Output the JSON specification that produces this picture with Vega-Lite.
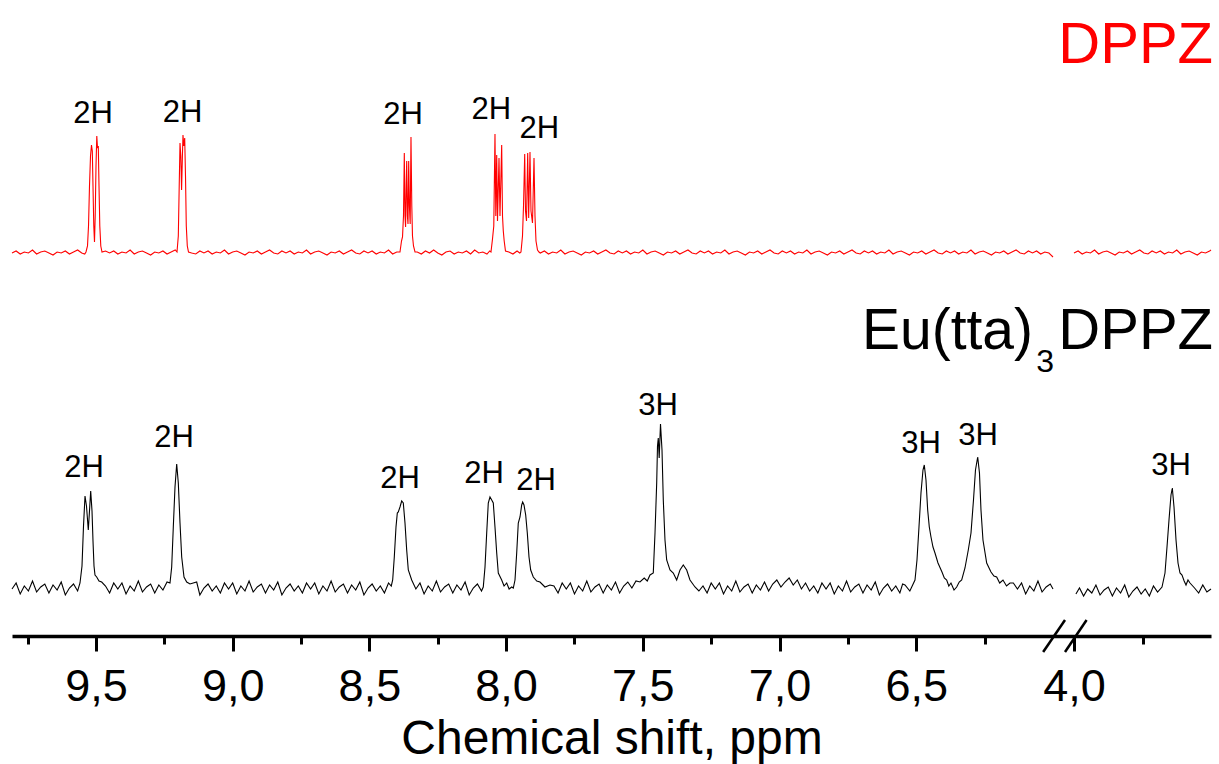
{
"$schema": "https://vega.github.io/schema/vega-lite/v6.json",
"width": 1200, "height": 636,
"autosize": {"type": "none"},
"padding": {"left": 12, "top": 0, "right": 7, "bottom": 128},
"background": "white",
"config": {"view": {"stroke": null}, "font": "Liberation Sans"},
"datasets": {
"spec": [
{"c":"D","g":1,"p":9.807,"i":383},{"c":"D","g":1,"p":9.792,"i":385},{"c":"D","g":1,"p":9.777,"i":382},{"c":"D","g":1,"p":9.762,"i":384},{"c":"D","g":1,"p":9.747,"i":383},{"c":"D","g":1,"p":9.732,"i":386},{"c":"D","g":1,"p":9.717,"i":382},{"c":"D","g":1,"p":9.702,"i":384},{"c":"D","g":1,"p":9.687,"i":385},{"c":"D","g":1,"p":9.672,"i":383},{"c":"D","g":1,"p":9.657,"i":381},{"c":"D","g":1,"p":9.642,"i":384},{"c":"D","g":1,"p":9.627,"i":383},{"c":"D","g":1,"p":9.612,"i":385},{"c":"D","g":1,"p":9.597,"i":382},{"c":"D","g":1,"p":9.582,"i":384},{"c":"D","g":1,"p":9.567,"i":386},{"c":"D","g":1,"p":9.552,"i":383},{"c":"D","g":1,"p":9.541,"i":382},
{"c":"D","g":1,"p":9.5364,"i":384},{"c":"D","g":1,"p":9.5309,"i":390},{"c":"D","g":1,"p":9.5272,"i":410},{"c":"D","g":1,"p":9.5236,"i":450},{"c":"D","g":1,"p":9.5199,"i":480},{"c":"D","g":1,"p":9.5163,"i":491},{"c":"D","g":1,"p":9.5133,"i":485},{"c":"D","g":1,"p":9.5108,"i":450},{"c":"D","g":1,"p":9.5079,"i":410},{"c":"D","g":1,"p":9.5053,"i":394},{"c":"D","g":1,"p":9.5027,"i":420},{"c":"D","g":1,"p":9.4998,"i":470},{"c":"D","g":1,"p":9.4969,"i":500},{"c":"D","g":1,"p":9.4943,"i":488},{"c":"D","g":1,"p":9.4914,"i":490},{"c":"D","g":1,"p":9.4888,"i":450},{"c":"D","g":1,"p":9.4859,"i":410},{"c":"D","g":1,"p":9.4823,"i":390},{"c":"D","g":1,"p":9.4779,"i":384},
{"c":"D","g":1,"p":9.465,"i":385},{"c":"D","g":1,"p":9.45,"i":383},{"c":"D","g":1,"p":9.435,"i":385},{"c":"D","g":1,"p":9.42,"i":382},{"c":"D","g":1,"p":9.405,"i":384},{"c":"D","g":1,"p":9.39,"i":383},{"c":"D","g":1,"p":9.375,"i":386},{"c":"D","g":1,"p":9.36,"i":382},{"c":"D","g":1,"p":9.345,"i":384},{"c":"D","g":1,"p":9.33,"i":385},{"c":"D","g":1,"p":9.315,"i":383},{"c":"D","g":1,"p":9.3,"i":381},{"c":"D","g":1,"p":9.285,"i":384},{"c":"D","g":1,"p":9.27,"i":383},{"c":"D","g":1,"p":9.255,"i":385},{"c":"D","g":1,"p":9.24,"i":382},{"c":"D","g":1,"p":9.225,"i":384},{"c":"D","g":1,"p":9.21,"i":386},
{"c":"D","g":1,"p":9.2036,"i":384},{"c":"D","g":1,"p":9.1988,"i":400},{"c":"D","g":1,"p":9.1955,"i":450},{"c":"D","g":1,"p":9.1926,"i":493},{"c":"D","g":1,"p":9.1897,"i":480},{"c":"D","g":1,"p":9.1868,"i":446},{"c":"D","g":1,"p":9.1838,"i":480},{"c":"D","g":1,"p":9.1817,"i":501},{"c":"D","g":1,"p":9.1787,"i":490},{"c":"D","g":1,"p":9.1754,"i":498},{"c":"D","g":1,"p":9.1725,"i":460},{"c":"D","g":1,"p":9.1696,"i":410},{"c":"D","g":1,"p":9.1659,"i":390},{"c":"D","g":1,"p":9.1615,"i":384},
{"c":"D","g":1,"p":9.15,"i":383},{"c":"D","g":1,"p":9.135,"i":382},{"c":"D","g":1,"p":9.12,"i":385},{"c":"D","g":1,"p":9.105,"i":383},{"c":"D","g":1,"p":9.09,"i":385},{"c":"D","g":1,"p":9.075,"i":382},{"c":"D","g":1,"p":9.06,"i":384},{"c":"D","g":1,"p":9.045,"i":383},{"c":"D","g":1,"p":9.03,"i":386},{"c":"D","g":1,"p":9.015,"i":382},{"c":"D","g":1,"p":9.0,"i":384},{"c":"D","g":1,"p":8.985,"i":385},{"c":"D","g":1,"p":8.97,"i":383},{"c":"D","g":1,"p":8.955,"i":381},{"c":"D","g":1,"p":8.94,"i":384},{"c":"D","g":1,"p":8.925,"i":383},{"c":"D","g":1,"p":8.91,"i":385},{"c":"D","g":1,"p":8.895,"i":382},{"c":"D","g":1,"p":8.88,"i":384},{"c":"D","g":1,"p":8.865,"i":386},{"c":"D","g":1,"p":8.85,"i":383},{"c":"D","g":1,"p":8.835,"i":382},{"c":"D","g":1,"p":8.82,"i":385},{"c":"D","g":1,"p":8.805,"i":383},{"c":"D","g":1,"p":8.79,"i":385},{"c":"D","g":1,"p":8.775,"i":382},{"c":"D","g":1,"p":8.76,"i":384},{"c":"D","g":1,"p":8.745,"i":383},{"c":"D","g":1,"p":8.73,"i":386},{"c":"D","g":1,"p":8.715,"i":382},{"c":"D","g":1,"p":8.7,"i":384},{"c":"D","g":1,"p":8.685,"i":385},{"c":"D","g":1,"p":8.67,"i":383},{"c":"D","g":1,"p":8.655,"i":381},{"c":"D","g":1,"p":8.64,"i":384},{"c":"D","g":1,"p":8.625,"i":383},{"c":"D","g":1,"p":8.61,"i":385},{"c":"D","g":1,"p":8.595,"i":382},{"c":"D","g":1,"p":8.58,"i":384},{"c":"D","g":1,"p":8.565,"i":386},{"c":"D","g":1,"p":8.55,"i":383},{"c":"D","g":1,"p":8.535,"i":382},{"c":"D","g":1,"p":8.52,"i":385},{"c":"D","g":1,"p":8.505,"i":383},{"c":"D","g":1,"p":8.49,"i":385},{"c":"D","g":1,"p":8.475,"i":382},{"c":"D","g":1,"p":8.46,"i":384},{"c":"D","g":1,"p":8.445,"i":383},{"c":"D","g":1,"p":8.43,"i":386},{"c":"D","g":1,"p":8.415,"i":382},{"c":"D","g":1,"p":8.4,"i":384},
{"c":"D","g":1,"p":8.3881,"i":384},{"c":"D","g":1,"p":8.3826,"i":395},{"c":"D","g":1,"p":8.3789,"i":399},{"c":"D","g":1,"p":8.3753,"i":420},{"c":"D","g":1,"p":8.3723,"i":483},{"c":"D","g":1,"p":8.3698,"i":420},{"c":"D","g":1,"p":8.3676,"i":409},{"c":"D","g":1,"p":8.3654,"i":450},{"c":"D","g":1,"p":8.3636,"i":475},{"c":"D","g":1,"p":8.361,"i":420},{"c":"D","g":1,"p":8.3588,"i":412},{"c":"D","g":1,"p":8.3563,"i":475},{"c":"D","g":1,"p":8.3537,"i":430},{"c":"D","g":1,"p":8.3508,"i":412},{"c":"D","g":1,"p":8.3479,"i":499},{"c":"D","g":1,"p":8.3449,"i":430},{"c":"D","g":1,"p":8.3424,"i":400},{"c":"D","g":1,"p":8.3387,"i":390},{"c":"D","g":1,"p":8.3332,"i":384},
{"c":"D","g":1,"p":8.325,"i":384},{"c":"D","g":1,"p":8.31,"i":382},{"c":"D","g":1,"p":8.295,"i":385},{"c":"D","g":1,"p":8.28,"i":383},{"c":"D","g":1,"p":8.265,"i":386},{"c":"D","g":1,"p":8.25,"i":383},{"c":"D","g":1,"p":8.235,"i":381},{"c":"D","g":1,"p":8.22,"i":384},{"c":"D","g":1,"p":8.205,"i":385},{"c":"D","g":1,"p":8.19,"i":382},{"c":"D","g":1,"p":8.175,"i":384},{"c":"D","g":1,"p":8.16,"i":383},{"c":"D","g":1,"p":8.145,"i":385},{"c":"D","g":1,"p":8.13,"i":382},{"c":"D","g":1,"p":8.115,"i":386},{"c":"D","g":1,"p":8.1,"i":383},{"c":"D","g":1,"p":8.085,"i":384},{"c":"D","g":1,"p":8.07,"i":382},{"c":"D","g":1,"p":8.06,"i":385},
{"c":"D","g":1,"p":8.0553,"i":384},{"c":"D","g":1,"p":8.0498,"i":397},{"c":"D","g":1,"p":8.0451,"i":410},{"c":"D","g":1,"p":8.0407,"i":502},{"c":"D","g":1,"p":8.0377,"i":420},{"c":"D","g":1,"p":8.0344,"i":481},{"c":"D","g":1,"p":8.0315,"i":415},{"c":"D","g":1,"p":8.026,"i":478},{"c":"D","g":1,"p":8.0224,"i":420},{"c":"D","g":1,"p":8.0162,"i":491},{"c":"D","g":1,"p":8.0132,"i":420},{"c":"D","g":1,"p":8.0103,"i":405},{"c":"D","g":1,"p":8.007,"i":395},{"c":"D","g":1,"p":8.0023,"i":385},
{"c":"D","g":1,"p":7.99,"i":384},{"c":"D","g":1,"p":7.975,"i":382},{"c":"D","g":1,"p":7.96,"i":385},{"c":"D","g":1,"p":7.95,"i":383},
{"c":"D","g":1,"p":7.9456,"i":384},{"c":"D","g":1,"p":7.9401,"i":400},{"c":"D","g":1,"p":7.9364,"i":430},{"c":"D","g":1,"p":7.932,"i":482},{"c":"D","g":1,"p":7.9291,"i":425},{"c":"D","g":1,"p":7.9254,"i":415},{"c":"D","g":1,"p":7.9211,"i":483},{"c":"D","g":1,"p":7.9175,"i":418},{"c":"D","g":1,"p":7.9127,"i":484},{"c":"D","g":1,"p":7.909,"i":425},{"c":"D","g":1,"p":7.9035,"i":413},{"c":"D","g":1,"p":7.898,"i":478},{"c":"D","g":1,"p":7.8944,"i":420},{"c":"D","g":1,"p":7.8907,"i":395},{"c":"D","g":1,"p":7.8852,"i":386},{"c":"D","g":1,"p":7.8798,"i":384},
{"c":"D","g":1,"p":7.875,"i":383},{"c":"D","g":1,"p":7.86,"i":385},{"c":"D","g":1,"p":7.845,"i":382},{"c":"D","g":1,"p":7.83,"i":384},{"c":"D","g":1,"p":7.815,"i":383},{"c":"D","g":1,"p":7.8,"i":386},{"c":"D","g":1,"p":7.785,"i":382},{"c":"D","g":1,"p":7.77,"i":384},{"c":"D","g":1,"p":7.755,"i":385},{"c":"D","g":1,"p":7.74,"i":383},{"c":"D","g":1,"p":7.725,"i":381},{"c":"D","g":1,"p":7.71,"i":384},{"c":"D","g":1,"p":7.695,"i":383},{"c":"D","g":1,"p":7.68,"i":385},{"c":"D","g":1,"p":7.665,"i":382},{"c":"D","g":1,"p":7.65,"i":384},{"c":"D","g":1,"p":7.635,"i":386},{"c":"D","g":1,"p":7.62,"i":383},{"c":"D","g":1,"p":7.605,"i":382},{"c":"D","g":1,"p":7.59,"i":385},{"c":"D","g":1,"p":7.575,"i":383},{"c":"D","g":1,"p":7.56,"i":385},{"c":"D","g":1,"p":7.545,"i":382},{"c":"D","g":1,"p":7.53,"i":384},{"c":"D","g":1,"p":7.515,"i":383},{"c":"D","g":1,"p":7.5,"i":386},{"c":"D","g":1,"p":7.485,"i":382},{"c":"D","g":1,"p":7.47,"i":384},{"c":"D","g":1,"p":7.455,"i":385},{"c":"D","g":1,"p":7.44,"i":383},{"c":"D","g":1,"p":7.425,"i":381},{"c":"D","g":1,"p":7.41,"i":384},{"c":"D","g":1,"p":7.395,"i":383},{"c":"D","g":1,"p":7.38,"i":385},{"c":"D","g":1,"p":7.365,"i":382},{"c":"D","g":1,"p":7.35,"i":384},{"c":"D","g":1,"p":7.335,"i":386},{"c":"D","g":1,"p":7.32,"i":383},{"c":"D","g":1,"p":7.305,"i":382},{"c":"D","g":1,"p":7.29,"i":385},{"c":"D","g":1,"p":7.275,"i":383},{"c":"D","g":1,"p":7.26,"i":385},{"c":"D","g":1,"p":7.245,"i":382},{"c":"D","g":1,"p":7.23,"i":384},{"c":"D","g":1,"p":7.215,"i":383},{"c":"D","g":1,"p":7.2,"i":386},{"c":"D","g":1,"p":7.185,"i":382},{"c":"D","g":1,"p":7.17,"i":384},{"c":"D","g":1,"p":7.155,"i":385},{"c":"D","g":1,"p":7.14,"i":383},{"c":"D","g":1,"p":7.125,"i":381},{"c":"D","g":1,"p":7.11,"i":384},{"c":"D","g":1,"p":7.095,"i":383},{"c":"D","g":1,"p":7.08,"i":385},{"c":"D","g":1,"p":7.065,"i":382},{"c":"D","g":1,"p":7.05,"i":384},{"c":"D","g":1,"p":7.035,"i":386},{"c":"D","g":1,"p":7.02,"i":383},{"c":"D","g":1,"p":7.005,"i":382},{"c":"D","g":1,"p":6.99,"i":385},{"c":"D","g":1,"p":6.975,"i":383},{"c":"D","g":1,"p":6.96,"i":385},{"c":"D","g":1,"p":6.945,"i":382},{"c":"D","g":1,"p":6.93,"i":384},{"c":"D","g":1,"p":6.915,"i":383},{"c":"D","g":1,"p":6.9,"i":386},{"c":"D","g":1,"p":6.885,"i":382},{"c":"D","g":1,"p":6.87,"i":384},{"c":"D","g":1,"p":6.855,"i":385},{"c":"D","g":1,"p":6.84,"i":383},{"c":"D","g":1,"p":6.825,"i":381},{"c":"D","g":1,"p":6.81,"i":384},{"c":"D","g":1,"p":6.795,"i":383},{"c":"D","g":1,"p":6.78,"i":385},{"c":"D","g":1,"p":6.765,"i":382},{"c":"D","g":1,"p":6.75,"i":384},{"c":"D","g":1,"p":6.735,"i":386},{"c":"D","g":1,"p":6.72,"i":383},{"c":"D","g":1,"p":6.705,"i":382},{"c":"D","g":1,"p":6.69,"i":385},{"c":"D","g":1,"p":6.675,"i":383},{"c":"D","g":1,"p":6.66,"i":385},{"c":"D","g":1,"p":6.645,"i":382},{"c":"D","g":1,"p":6.63,"i":384},{"c":"D","g":1,"p":6.615,"i":383},{"c":"D","g":1,"p":6.6,"i":386},{"c":"D","g":1,"p":6.585,"i":382},{"c":"D","g":1,"p":6.57,"i":384},{"c":"D","g":1,"p":6.555,"i":385},{"c":"D","g":1,"p":6.54,"i":383},{"c":"D","g":1,"p":6.525,"i":381},{"c":"D","g":1,"p":6.51,"i":384},{"c":"D","g":1,"p":6.495,"i":383},{"c":"D","g":1,"p":6.48,"i":385},{"c":"D","g":1,"p":6.465,"i":382},{"c":"D","g":1,"p":6.45,"i":384},{"c":"D","g":1,"p":6.435,"i":386},{"c":"D","g":1,"p":6.42,"i":383},{"c":"D","g":1,"p":6.405,"i":382},{"c":"D","g":1,"p":6.39,"i":385},{"c":"D","g":1,"p":6.375,"i":383},{"c":"D","g":1,"p":6.36,"i":385},{"c":"D","g":1,"p":6.345,"i":382},{"c":"D","g":1,"p":6.33,"i":384},{"c":"D","g":1,"p":6.315,"i":383},{"c":"D","g":1,"p":6.3,"i":386},{"c":"D","g":1,"p":6.285,"i":382},{"c":"D","g":1,"p":6.27,"i":384},{"c":"D","g":1,"p":6.255,"i":385},{"c":"D","g":1,"p":6.24,"i":383},{"c":"D","g":1,"p":6.225,"i":381},{"c":"D","g":1,"p":6.21,"i":384},{"c":"D","g":1,"p":6.195,"i":383},{"c":"D","g":1,"p":6.18,"i":385},{"c":"D","g":1,"p":6.165,"i":382},{"c":"D","g":1,"p":6.15,"i":384},{"c":"D","g":1,"p":6.135,"i":386},{"c":"D","g":1,"p":6.12,"i":383},{"c":"D","g":1,"p":6.105,"i":382},{"c":"D","g":1,"p":6.09,"i":385},{"c":"D","g":1,"p":6.075,"i":383},{"c":"D","g":1,"p":6.06,"i":385},{"c":"D","g":1,"p":6.045,"i":382},{"c":"D","g":1,"p":6.03,"i":384},{"c":"D","g":1,"p":6.015,"i":383},{"c":"D","g":1,"p":6.0,"i":379},
{"c":"D","g":2,"p":4.0,"i":383},{"c":"D","g":2,"p":3.985,"i":385},{"c":"D","g":2,"p":3.97,"i":382},{"c":"D","g":2,"p":3.955,"i":384},{"c":"D","g":2,"p":3.94,"i":383},{"c":"D","g":2,"p":3.925,"i":386},{"c":"D","g":2,"p":3.91,"i":382},{"c":"D","g":2,"p":3.895,"i":384},{"c":"D","g":2,"p":3.88,"i":385},{"c":"D","g":2,"p":3.865,"i":383},{"c":"D","g":2,"p":3.85,"i":381},{"c":"D","g":2,"p":3.835,"i":384},{"c":"D","g":2,"p":3.82,"i":383},{"c":"D","g":2,"p":3.805,"i":385},{"c":"D","g":2,"p":3.79,"i":382},{"c":"D","g":2,"p":3.775,"i":384},{"c":"D","g":2,"p":3.76,"i":386},{"c":"D","g":2,"p":3.745,"i":383},{"c":"D","g":2,"p":3.73,"i":382},{"c":"D","g":2,"p":3.715,"i":385},{"c":"D","g":2,"p":3.7,"i":383},{"c":"D","g":2,"p":3.685,"i":385},{"c":"D","g":2,"p":3.67,"i":382},{"c":"D","g":2,"p":3.655,"i":384},{"c":"D","g":2,"p":3.64,"i":383},{"c":"D","g":2,"p":3.625,"i":386},{"c":"D","g":2,"p":3.61,"i":382},{"c":"D","g":2,"p":3.595,"i":384},{"c":"D","g":2,"p":3.58,"i":385},{"c":"D","g":2,"p":3.565,"i":383},{"c":"D","g":2,"p":3.55,"i":381},{"c":"D","g":2,"p":3.535,"i":384},{"c":"D","g":2,"p":3.52,"i":383},{"c":"D","g":2,"p":3.505,"i":385},{"c":"D","g":2,"p":3.5,"i":386},
{"c":"E","g":1,"p":9.807,"i":47},{"c":"E","g":1,"p":9.792,"i":53},{"c":"E","g":1,"p":9.777,"i":42},{"c":"E","g":1,"p":9.762,"i":50},{"c":"E","g":1,"p":9.747,"i":45},{"c":"E","g":1,"p":9.732,"i":55},{"c":"E","g":1,"p":9.717,"i":44},{"c":"E","g":1,"p":9.702,"i":49},{"c":"E","g":1,"p":9.687,"i":52},{"c":"E","g":1,"p":9.672,"i":43},{"c":"E","g":1,"p":9.657,"i":51},{"c":"E","g":1,"p":9.642,"i":46},{"c":"E","g":1,"p":9.627,"i":54},{"c":"E","g":1,"p":9.612,"i":41},{"c":"E","g":1,"p":9.597,"i":48},{"c":"E","g":1,"p":9.582,"i":52},{"c":"E","g":1,"p":9.567,"i":45},
{"c":"E","g":1,"p":9.5583,"i":53},{"c":"E","g":1,"p":9.551,"i":70},{"c":"E","g":1,"p":9.5455,"i":110},{"c":"E","g":1,"p":9.54,"i":140},{"c":"E","g":1,"p":9.5346,"i":130},{"c":"E","g":1,"p":9.528,"i":106},{"c":"E","g":1,"p":9.5236,"i":125},{"c":"E","g":1,"p":9.5192,"i":145},{"c":"E","g":1,"p":9.5144,"i":125},{"c":"E","g":1,"p":9.5108,"i":95},{"c":"E","g":1,"p":9.5071,"i":70},{"c":"E","g":1,"p":9.5035,"i":61},{"c":"E","g":1,"p":9.4973,"i":59},{"c":"E","g":1,"p":9.4888,"i":55},{"c":"E","g":1,"p":9.479,"i":54},
{"c":"E","g":1,"p":9.465,"i":50},{"c":"E","g":1,"p":9.45,"i":43},{"c":"E","g":1,"p":9.435,"i":53},{"c":"E","g":1,"p":9.42,"i":47},{"c":"E","g":1,"p":9.405,"i":53},{"c":"E","g":1,"p":9.39,"i":42},{"c":"E","g":1,"p":9.375,"i":50},{"c":"E","g":1,"p":9.36,"i":45},{"c":"E","g":1,"p":9.345,"i":55},{"c":"E","g":1,"p":9.33,"i":44},{"c":"E","g":1,"p":9.315,"i":49},{"c":"E","g":1,"p":9.3,"i":52},{"c":"E","g":1,"p":9.285,"i":43},{"c":"E","g":1,"p":9.27,"i":51},{"c":"E","g":1,"p":9.255,"i":46},{"c":"E","g":1,"p":9.24,"i":54},
{"c":"E","g":1,"p":9.2292,"i":53},{"c":"E","g":1,"p":9.223,"i":69},{"c":"E","g":1,"p":9.2171,"i":109},{"c":"E","g":1,"p":9.2109,"i":149},{"c":"E","g":1,"p":9.2047,"i":172},{"c":"E","g":1,"p":9.1988,"i":153},{"c":"E","g":1,"p":9.1926,"i":113},{"c":"E","g":1,"p":9.1864,"i":79},{"c":"E","g":1,"p":9.178,"i":59},{"c":"E","g":1,"p":9.1681,"i":54},{"c":"E","g":1,"p":9.1561,"i":52},{"c":"E","g":1,"p":9.1316,"i":54},
{"c":"E","g":1,"p":9.12,"i":41},{"c":"E","g":1,"p":9.105,"i":48},{"c":"E","g":1,"p":9.09,"i":52},{"c":"E","g":1,"p":9.075,"i":45},{"c":"E","g":1,"p":9.06,"i":50},{"c":"E","g":1,"p":9.045,"i":43},{"c":"E","g":1,"p":9.03,"i":53},{"c":"E","g":1,"p":9.015,"i":47},{"c":"E","g":1,"p":9.0,"i":53},{"c":"E","g":1,"p":8.985,"i":42},{"c":"E","g":1,"p":8.97,"i":50},{"c":"E","g":1,"p":8.955,"i":45},{"c":"E","g":1,"p":8.94,"i":55},{"c":"E","g":1,"p":8.925,"i":44},{"c":"E","g":1,"p":8.91,"i":49},{"c":"E","g":1,"p":8.895,"i":52},{"c":"E","g":1,"p":8.88,"i":43},{"c":"E","g":1,"p":8.865,"i":51},{"c":"E","g":1,"p":8.85,"i":46},{"c":"E","g":1,"p":8.835,"i":54},{"c":"E","g":1,"p":8.82,"i":41},{"c":"E","g":1,"p":8.805,"i":48},{"c":"E","g":1,"p":8.79,"i":52},{"c":"E","g":1,"p":8.775,"i":45},{"c":"E","g":1,"p":8.76,"i":50},{"c":"E","g":1,"p":8.745,"i":43},{"c":"E","g":1,"p":8.73,"i":53},{"c":"E","g":1,"p":8.715,"i":47},{"c":"E","g":1,"p":8.7,"i":53},{"c":"E","g":1,"p":8.685,"i":42},{"c":"E","g":1,"p":8.67,"i":50},{"c":"E","g":1,"p":8.655,"i":45},{"c":"E","g":1,"p":8.64,"i":55},{"c":"E","g":1,"p":8.625,"i":44},{"c":"E","g":1,"p":8.61,"i":49},{"c":"E","g":1,"p":8.595,"i":52},{"c":"E","g":1,"p":8.58,"i":43},{"c":"E","g":1,"p":8.565,"i":51},{"c":"E","g":1,"p":8.55,"i":46},{"c":"E","g":1,"p":8.535,"i":54},{"c":"E","g":1,"p":8.52,"i":41},{"c":"E","g":1,"p":8.505,"i":48},{"c":"E","g":1,"p":8.49,"i":52},{"c":"E","g":1,"p":8.475,"i":45},{"c":"E","g":1,"p":8.46,"i":50},{"c":"E","g":1,"p":8.445,"i":43},{"c":"E","g":1,"p":8.43,"i":53},{"c":"E","g":1,"p":8.42,"i":50},
{"c":"E","g":1,"p":8.4148,"i":56},{"c":"E","g":1,"p":8.4089,"i":79},{"c":"E","g":1,"p":8.4027,"i":109},{"c":"E","g":1,"p":8.3979,"i":123},{"c":"E","g":1,"p":8.3943,"i":124},{"c":"E","g":1,"p":8.3881,"i":129},{"c":"E","g":1,"p":8.3819,"i":135},{"c":"E","g":1,"p":8.376,"i":133},{"c":"E","g":1,"p":8.3698,"i":113},{"c":"E","g":1,"p":8.3636,"i":86},{"c":"E","g":1,"p":8.3577,"i":66},{"c":"E","g":1,"p":8.3453,"i":56},
{"c":"E","g":1,"p":8.33,"i":47},{"c":"E","g":1,"p":8.315,"i":53},{"c":"E","g":1,"p":8.3,"i":42},{"c":"E","g":1,"p":8.285,"i":50},{"c":"E","g":1,"p":8.27,"i":45},{"c":"E","g":1,"p":8.255,"i":55},{"c":"E","g":1,"p":8.24,"i":44},{"c":"E","g":1,"p":8.225,"i":49},{"c":"E","g":1,"p":8.21,"i":52},{"c":"E","g":1,"p":8.195,"i":43},{"c":"E","g":1,"p":8.18,"i":51},{"c":"E","g":1,"p":8.165,"i":46},{"c":"E","g":1,"p":8.15,"i":54},{"c":"E","g":1,"p":8.135,"i":41},{"c":"E","g":1,"p":8.12,"i":48},{"c":"E","g":1,"p":8.105,"i":52},{"c":"E","g":1,"p":8.09,"i":45},
{"c":"E","g":1,"p":8.0835,"i":49},{"c":"E","g":1,"p":8.0772,"i":69},{"c":"E","g":1,"p":8.071,"i":103},{"c":"E","g":1,"p":8.0652,"i":133},{"c":"E","g":1,"p":8.059,"i":139},{"c":"E","g":1,"p":8.0527,"i":136},{"c":"E","g":1,"p":8.0469,"i":133},{"c":"E","g":1,"p":8.0407,"i":109},{"c":"E","g":1,"p":8.0344,"i":83},{"c":"E","g":1,"p":8.0286,"i":63},{"c":"E","g":1,"p":8.0162,"i":56},{"c":"E","g":1,"p":8.0075,"i":50},{"c":"E","g":1,"p":7.9979,"i":53},{"c":"E","g":1,"p":7.989,"i":47},{"c":"E","g":1,"p":7.9796,"i":49},{"c":"E","g":1,"p":7.9737,"i":48},
{"c":"E","g":1,"p":7.9675,"i":56},{"c":"E","g":1,"p":7.9613,"i":83},{"c":"E","g":1,"p":7.9555,"i":113},{"c":"E","g":1,"p":7.9492,"i":119},{"c":"E","g":1,"p":7.943,"i":131},{"c":"E","g":1,"p":7.9394,"i":134},{"c":"E","g":1,"p":7.9346,"i":131},{"c":"E","g":1,"p":7.9284,"i":121},{"c":"E","g":1,"p":7.9225,"i":103},{"c":"E","g":1,"p":7.9163,"i":79},{"c":"E","g":1,"p":7.9101,"i":66},{"c":"E","g":1,"p":7.9006,"i":59},{"c":"E","g":1,"p":7.888,"i":55},{"c":"E","g":1,"p":7.8761,"i":54},{"c":"E","g":1,"p":7.858,"i":49},{"c":"E","g":1,"p":7.8395,"i":51},
{"c":"E","g":1,"p":7.825,"i":50},{"c":"E","g":1,"p":7.81,"i":43},{"c":"E","g":1,"p":7.795,"i":53},{"c":"E","g":1,"p":7.78,"i":47},{"c":"E","g":1,"p":7.765,"i":53},{"c":"E","g":1,"p":7.75,"i":42},{"c":"E","g":1,"p":7.735,"i":50},{"c":"E","g":1,"p":7.72,"i":45},{"c":"E","g":1,"p":7.705,"i":55},{"c":"E","g":1,"p":7.69,"i":44},{"c":"E","g":1,"p":7.675,"i":49},{"c":"E","g":1,"p":7.66,"i":52},{"c":"E","g":1,"p":7.645,"i":43},{"c":"E","g":1,"p":7.63,"i":51},{"c":"E","g":1,"p":7.615,"i":46},{"c":"E","g":1,"p":7.6,"i":54},{"c":"E","g":1,"p":7.585,"i":43},{"c":"E","g":1,"p":7.57,"i":50},{"c":"E","g":1,"p":7.555,"i":54},{"c":"E","g":1,"p":7.54,"i":48},{"c":"E","g":1,"p":7.525,"i":55},
{"c":"E","g":1,"p":7.5104,"i":54},{"c":"E","g":1,"p":7.495,"i":58},{"c":"E","g":1,"p":7.4838,"i":55},{"c":"E","g":1,"p":7.4738,"i":61},{"c":"E","g":1,"p":7.4618,"i":63},{"c":"E","g":1,"p":7.4555,"i":103},{"c":"E","g":1,"p":7.4493,"i":153},{"c":"E","g":1,"p":7.4464,"i":190},{"c":"E","g":1,"p":7.4435,"i":198},{"c":"E","g":1,"p":7.4402,"i":178},{"c":"E","g":1,"p":7.4354,"i":212},{"c":"E","g":1,"p":7.4299,"i":186},{"c":"E","g":1,"p":7.4252,"i":136},{"c":"E","g":1,"p":7.419,"i":96},{"c":"E","g":1,"p":7.4128,"i":76},{"c":"E","g":1,"p":7.4007,"i":66},{"c":"E","g":1,"p":7.3886,"i":63},{"c":"E","g":1,"p":7.3762,"i":56},{"c":"E","g":1,"p":7.3641,"i":66},{"c":"E","g":1,"p":7.3521,"i":71},{"c":"E","g":1,"p":7.3396,"i":66},{"c":"E","g":1,"p":7.3276,"i":56},{"c":"E","g":1,"p":7.3093,"i":49},
{"c":"E","g":1,"p":7.295,"i":45},{"c":"E","g":1,"p":7.28,"i":50},{"c":"E","g":1,"p":7.265,"i":43},{"c":"E","g":1,"p":7.25,"i":53},{"c":"E","g":1,"p":7.235,"i":47},{"c":"E","g":1,"p":7.22,"i":53},{"c":"E","g":1,"p":7.205,"i":42},{"c":"E","g":1,"p":7.19,"i":50},{"c":"E","g":1,"p":7.175,"i":45},{"c":"E","g":1,"p":7.16,"i":55},{"c":"E","g":1,"p":7.145,"i":44},{"c":"E","g":1,"p":7.13,"i":49},{"c":"E","g":1,"p":7.115,"i":52},{"c":"E","g":1,"p":7.1,"i":43},{"c":"E","g":1,"p":7.085,"i":51},{"c":"E","g":1,"p":7.07,"i":46},{"c":"E","g":1,"p":7.055,"i":54},{"c":"E","g":1,"p":7.04,"i":45},{"c":"E","g":1,"p":7.025,"i":52},{"c":"E","g":1,"p":7.01,"i":56},{"c":"E","g":1,"p":6.995,"i":49},{"c":"E","g":1,"p":6.98,"i":54},{"c":"E","g":1,"p":6.965,"i":58},{"c":"E","g":1,"p":6.95,"i":51},{"c":"E","g":1,"p":6.935,"i":56},{"c":"E","g":1,"p":6.92,"i":47},{"c":"E","g":1,"p":6.905,"i":53},{"c":"E","g":1,"p":6.89,"i":45},{"c":"E","g":1,"p":6.875,"i":50},{"c":"E","g":1,"p":6.86,"i":43},{"c":"E","g":1,"p":6.845,"i":53},{"c":"E","g":1,"p":6.83,"i":47},{"c":"E","g":1,"p":6.815,"i":53},{"c":"E","g":1,"p":6.8,"i":42},{"c":"E","g":1,"p":6.785,"i":50},{"c":"E","g":1,"p":6.77,"i":45},{"c":"E","g":1,"p":6.755,"i":55},{"c":"E","g":1,"p":6.74,"i":44},{"c":"E","g":1,"p":6.725,"i":49},{"c":"E","g":1,"p":6.71,"i":52},{"c":"E","g":1,"p":6.695,"i":43},{"c":"E","g":1,"p":6.68,"i":51},{"c":"E","g":1,"p":6.665,"i":46},{"c":"E","g":1,"p":6.65,"i":54},{"c":"E","g":1,"p":6.635,"i":41},{"c":"E","g":1,"p":6.62,"i":48},{"c":"E","g":1,"p":6.605,"i":52},{"c":"E","g":1,"p":6.59,"i":45},{"c":"E","g":1,"p":6.575,"i":50},{"c":"E","g":1,"p":6.56,"i":43},{"c":"E","g":1,"p":6.55,"i":52},
{"c":"E","g":1,"p":6.5413,"i":51},{"c":"E","g":1,"p":6.5235,"i":45},{"c":"E","g":1,"p":6.5047,"i":56},{"c":"E","g":1,"p":6.4974,"i":76},{"c":"E","g":1,"p":6.4901,"i":109},{"c":"E","g":1,"p":6.4828,"i":143},{"c":"E","g":1,"p":6.4755,"i":166},{"c":"E","g":1,"p":6.4707,"i":171},{"c":"E","g":1,"p":6.4645,"i":156},{"c":"E","g":1,"p":6.4583,"i":126},{"c":"E","g":1,"p":6.4524,"i":109},{"c":"E","g":1,"p":6.4462,"i":99},{"c":"E","g":1,"p":6.4389,"i":89},{"c":"E","g":1,"p":6.4316,"i":83},{"c":"E","g":1,"p":6.4206,"i":73},{"c":"E","g":1,"p":6.406,"i":64},{"c":"E","g":1,"p":6.3975,"i":58},{"c":"E","g":1,"p":6.3888,"i":56},{"c":"E","g":1,"p":6.381,"i":50},{"c":"E","g":1,"p":6.3731,"i":53},{"c":"E","g":1,"p":6.362,"i":46},{"c":"E","g":1,"p":6.3522,"i":49},{"c":"E","g":1,"p":6.343,"i":54},
{"c":"E","g":1,"p":6.3339,"i":56},{"c":"E","g":1,"p":6.3219,"i":68},{"c":"E","g":1,"p":6.3098,"i":86},{"c":"E","g":1,"p":6.2999,"i":103},{"c":"E","g":1,"p":6.2908,"i":136},{"c":"E","g":1,"p":6.2835,"i":166},{"c":"E","g":1,"p":6.2754,"i":179},{"c":"E","g":1,"p":6.2689,"i":163},{"c":"E","g":1,"p":6.2634,"i":126},{"c":"E","g":1,"p":6.2561,"i":96},{"c":"E","g":1,"p":6.2425,"i":73},{"c":"E","g":1,"p":6.2268,"i":64},{"c":"E","g":1,"p":6.216,"i":60},{"c":"E","g":1,"p":6.206,"i":59},{"c":"E","g":1,"p":6.195,"i":53},{"c":"E","g":1,"p":6.1829,"i":56},{"c":"E","g":1,"p":6.17,"i":50},{"c":"E","g":1,"p":6.1573,"i":53},
{"c":"E","g":1,"p":6.145,"i":53},{"c":"E","g":1,"p":6.13,"i":47},{"c":"E","g":1,"p":6.115,"i":53},{"c":"E","g":1,"p":6.1,"i":42},{"c":"E","g":1,"p":6.085,"i":50},{"c":"E","g":1,"p":6.07,"i":45},{"c":"E","g":1,"p":6.055,"i":55},{"c":"E","g":1,"p":6.04,"i":44},{"c":"E","g":1,"p":6.025,"i":49},{"c":"E","g":1,"p":6.01,"i":52},{"c":"E","g":1,"p":6.0,"i":47},
{"c":"E","g":2,"p":3.993,"i":42},{"c":"E","g":2,"p":3.98,"i":48},{"c":"E","g":2,"p":3.965,"i":40},{"c":"E","g":2,"p":3.95,"i":47},{"c":"E","g":2,"p":3.935,"i":43},{"c":"E","g":2,"p":3.92,"i":51},{"c":"E","g":2,"p":3.905,"i":41},{"c":"E","g":2,"p":3.89,"i":46},{"c":"E","g":2,"p":3.875,"i":49},{"c":"E","g":2,"p":3.86,"i":40},{"c":"E","g":2,"p":3.845,"i":48},{"c":"E","g":2,"p":3.83,"i":43},{"c":"E","g":2,"p":3.815,"i":51},{"c":"E","g":2,"p":3.8,"i":39},{"c":"E","g":2,"p":3.785,"i":45},{"c":"E","g":2,"p":3.77,"i":49},{"c":"E","g":2,"p":3.755,"i":42},{"c":"E","g":2,"p":3.74,"i":47},{"c":"E","g":2,"p":3.725,"i":40},{"c":"E","g":2,"p":3.71,"i":50},{"c":"E","g":2,"p":3.695,"i":44},
{"c":"E","g":2,"p":3.6788,"i":49},{"c":"E","g":2,"p":3.6679,"i":63},{"c":"E","g":2,"p":3.6606,"i":89},{"c":"E","g":2,"p":3.6533,"i":116},{"c":"E","g":2,"p":3.646,"i":141},{"c":"E","g":2,"p":3.6412,"i":148},{"c":"E","g":2,"p":3.635,"i":129},{"c":"E","g":2,"p":3.6277,"i":96},{"c":"E","g":2,"p":3.6204,"i":73},{"c":"E","g":2,"p":3.6131,"i":63},{"c":"E","g":2,"p":3.6058,"i":61},{"c":"E","g":2,"p":3.598,"i":55},{"c":"E","g":2,"p":3.5912,"i":51},{"c":"E","g":2,"p":3.584,"i":56},{"c":"E","g":2,"p":3.5766,"i":53},
{"c":"E","g":2,"p":3.56,"i":48},{"c":"E","g":2,"p":3.545,"i":43},{"c":"E","g":2,"p":3.53,"i":51},{"c":"E","g":2,"p":3.515,"i":44},{"c":"E","g":2,"p":3.5,"i":47}
],
"labels": [
{"t":"2H","p":9.5108,"i":513},{"t":"2H","p":9.1835,"i":514},{"t":"2H","p":8.3771,"i":512},{"t":"2H","p":8.0542,"i":517},{"t":"2H","p":7.8787,"i":498},
{"t":"2H","p":9.5437,"i":159},{"t":"2H","p":9.2146,"i":189},{"t":"2H","p":8.3881,"i":148},{"t":"2H","p":8.0809,"i":153},{"t":"2H","p":7.8907,"i":146},
{"t":"3H","p":7.4446,"i":221},{"t":"3H","p":6.4828,"i":183},{"t":"3H","p":6.2743,"i":191},{"t":"3H","p":3.646,"i":161}
],
"names": [
{"c":"D","t":"DPPZ","p":3.5,"i":573},{"c":"E","t":"DPPZ","p":3.5,"i":287}
],
"eu": [{"t":"Eu(tta)","p":3.5,"i":287}],
"sub": [{"t":"3","p":3.5,"i":264}],
"brk": [
{"x1":6.036,"x2":4.857,"y1":-16,"y2":16},{"x1":4.857,"x2":3.954,"y1":-16,"y2":16}
]
},
"layer": [
{"data": {"name": "spec"},
 "mark": {"type": "line", "strokeWidth": 1.1},
 "encoding": {
  "x": {"field": "p", "type": "quantitative",
        "scale": {"domain": [9.807, 6.0, 4.0, 3.5], "range": [0, 1041, 1062, 1199], "nice": false, "zero": false},
        "axis": {"orient": "bottom", "values": [9.5, 9, 8.5, 8, 7.5, 7, 6.5, 4], "labelExpr": "replace(format(datum.value, '.1f'), '.', ',')",
                 "tickSize": 15, "tickWidth": 3, "tickColor": "black", "domainColor": "black", "domainWidth": 3.5,
                 "labelFontSize": 45, "labelFont": "Liberation Sans", "labelColor": "black", "labelPadding": 13,
                 "labelFlush": false, "labelOverlap": false, "labelBound": false, "grid": false,
                 "title": "Chemical shift, ppm", "titleFont": "Liberation Sans", "titleFontSize": 48, "titleFontWeight": "normal", "titleColor": "black", "titlePadding": 6}},
  "y": {"field": "i", "type": "quantitative", "scale": {"domain": [0, 636], "nice": false, "zero": false}, "axis": null},
  "color": {"field": "c", "type": "nominal", "scale": {"domain": ["D", "E"], "range": ["#ff0000", "#000000"]}, "legend": null},
  "detail": {"field": "g", "type": "nominal"}
 }},
{"data": {"name": "brk"},
 "mark": {"type": "rule", "strokeWidth": 2.5, "color": "black"},
 "encoding": {
  "x": {"field": "x1", "type": "quantitative",
        "scale": {"domain": [9.807, 6.0, 4.0, 3.5], "range": [0, 1041, 1062, 1199], "nice": false, "zero": false},
        "axis": {"orient": "bottom", "values": [9.75, 9.25, 8.75, 8.25, 7.75, 7.25, 6.75, 6.25, 3.75], "labels": false, "domain": false, "title": null, "tickSize": 8, "tickWidth": 3, "tickColor": "black", "grid": false}},
  "x2": {"field": "x2"},
  "y": {"field": "y1", "type": "quantitative", "scale": {"domain": [0, 636], "nice": false, "zero": false}, "axis": null},
  "y2": {"field": "y2"}
 }},
{"data": {"name": "labels"},
 "mark": {"type": "text", "fontSize": 31, "font": "Liberation Sans", "baseline": "alphabetic", "align": "center", "color": "black"},
 "encoding": {
  "x": {"field": "p", "type": "quantitative", "scale": {"domain": [9.807, 6.0, 4.0, 3.5], "range": [0, 1041, 1062, 1199], "nice": false, "zero": false}, "axis": null},
  "y": {"field": "i", "type": "quantitative", "scale": {"domain": [0, 636], "nice": false, "zero": false}, "axis": null},
  "text": {"field": "t"}
 }},
{"data": {"name": "names"},
 "mark": {"type": "text", "fontSize": 58, "font": "Liberation Sans", "baseline": "alphabetic", "align": "right", "dx": 2},
 "encoding": {
  "x": {"field": "p", "type": "quantitative", "scale": {"domain": [9.807, 6.0, 4.0, 3.5], "range": [0, 1041, 1062, 1199], "nice": false, "zero": false}, "axis": null},
  "y": {"field": "i", "type": "quantitative", "scale": {"domain": [0, 636], "nice": false, "zero": false}, "axis": null},
  "text": {"field": "t"},
  "color": {"field": "c", "type": "nominal", "scale": {"domain": ["D", "E"], "range": ["#ff0000", "#000000"]}, "legend": null}
 }},
{"data": {"name": "eu"},
 "mark": {"type": "text", "fontSize": 57, "font": "Liberation Sans", "baseline": "alphabetic", "align": "right", "dx": -178, "color": "black"},
 "encoding": {
  "x": {"field": "p", "type": "quantitative", "scale": {"domain": [9.807, 6.0, 4.0, 3.5], "range": [0, 1041, 1062, 1199], "nice": false, "zero": false}, "axis": null},
  "y": {"field": "i", "type": "quantitative", "scale": {"domain": [0, 636], "nice": false, "zero": false}, "axis": null},
  "text": {"field": "t"}
 }},
{"data": {"name": "sub"},
 "mark": {"type": "text", "fontSize": 32, "font": "Liberation Sans", "baseline": "alphabetic", "align": "right", "dx": -157, "color": "black"},
 "encoding": {
  "x": {"field": "p", "type": "quantitative", "scale": {"domain": [9.807, 6.0, 4.0, 3.5], "range": [0, 1041, 1062, 1199], "nice": false, "zero": false}, "axis": null},
  "y": {"field": "i", "type": "quantitative", "scale": {"domain": [0, 636], "nice": false, "zero": false}, "axis": null},
  "text": {"field": "t"}
 }}
],
"resolve": {"axis": {"x": "independent"}}
}
